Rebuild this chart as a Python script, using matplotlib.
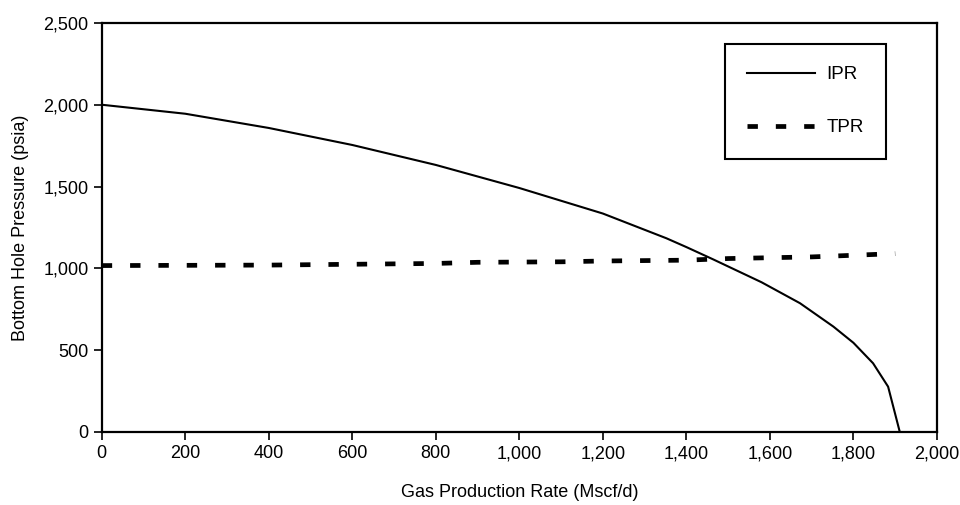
import numpy as np
import matplotlib
matplotlib.use("Agg")
import matplotlib.pyplot as plt
from matplotlib.ticker import FuncFormatter

plt.rcParams['font.family'] = ['Liberation Sans', 'DejaVu Sans']

# inflow performance (IPR)
ipr_rate = [0, 200, 400, 600, 800, 1000, 1200, 1352, 1400, 1464, 1580, 1672, 1752, 1800, 1847, 1883, 1911]
ipr_pwf = [2000, 1945, 1858, 1754, 1632, 1491, 1335, 1184, 1130, 1055, 915, 787, 644, 545, 420, 277, 0]

# tubing performance (TPR)
tpr_rate = [0, 400, 600, 800, 900, 1100, 1200, 1400, 1500, 1700, 1800, 1900]
tpr_pwf = [1017, 1020, 1025, 1030, 1037, 1040, 1045, 1050, 1060, 1070, 1080, 1090]

fig = plt.figure(figsize=(9.6, 5.05), dpi=100)
ax = fig.add_axes([0.106, 0.1446, 0.870, 0.810])

ax.plot(ipr_rate, ipr_pwf, color='black', lw=1.5, label='IPR')
ax.plot(tpr_rate, tpr_pwf, color='black', lw=3.4, dashes=(2.2, 3.8),
        dash_capstyle='butt', label='TPR')

ax.set_xlim(0, 2000)
ax.set_ylim(0, 2500)
ax.set_xticks(np.arange(0, 2001, 200))
ax.set_yticks(np.arange(0, 2501, 500))
fmt = FuncFormatter(lambda v, p: f"{int(v):,}")
ax.xaxis.set_major_formatter(fmt)
ax.yaxis.set_major_formatter(fmt)
ax.tick_params(direction='out', length=6, width=1.2, labelsize=13, colors='black')

for s in ax.spines.values():
    s.set_linewidth(1.6)

ax.set_xlabel("Gas Production Rate (Mscf/d)", fontsize=13, labelpad=16)
ax.set_ylabel("Bottom Hole Pressure (psia)", fontsize=13, labelpad=10)

leg = ax.legend(loc='upper right', bbox_to_anchor=(0.939, 0.949), fontsize=13.5,
                handlelength=3.6, labelspacing=1.9, borderpad=1.2, borderaxespad=0,
                handletextpad=0.6, fancybox=False, framealpha=1, edgecolor='black')
leg.get_frame().set_linewidth(1.5)

fig.savefig("out.png", dpi=100)
